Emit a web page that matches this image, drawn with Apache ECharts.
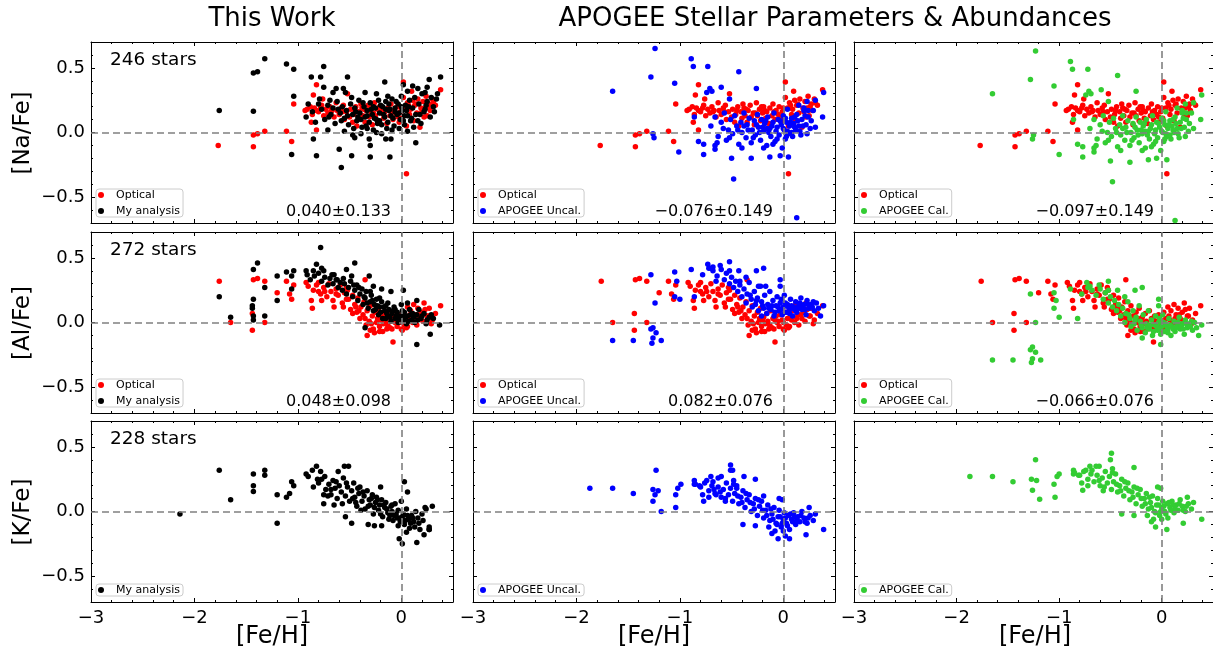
<!DOCTYPE html>
<html><head><meta charset="utf-8">
<script src="https://cdn.jsdelivr.net/npm/echarts@6/dist/echarts.min.js"></script>
<style>html,body{margin:0;padding:0;background:#fff}#c{width:1213px;height:655px}</style>
</head><body><div id="c"></div>
<script>
// ---------------- DATA ([Fe/H], [X/Fe]) ----------------
const naOptical = [[-1.77,-0.10],[-1.43,-0.11],[-1.43,-0.02],[-1.39,-0.01],[-1.32,0.01],[-1.11,0.01],[-1.06,-0.07],[-1.04,0.22],[-0.91,0.18],[-0.82,0.37],[-0.85,0.29],[-0.82,0.17],[-0.82,0.02],[-0.87,0.08],[-0.76,0.26],[0.05,-0.32],[0.38,0.33],[0.27,0.22],[0.25,0.13],[0.02,0.39],
[-0.93,0.17],[-0.88,0.20],[-0.86,0.14],[-0.84,0.19],[-0.80,0.16],[-0.78,0.19],[-0.75,0.13],[-0.73,0.18],[-0.71,0.15],[-0.69,0.20],[-0.67,0.17],[-0.65,0.12],[-0.63,0.23],[-0.62,0.17],[-0.60,0.14],[-0.58,0.19],[-0.56,0.21],[-0.55,0.10],[-0.53,0.16],[-0.52,0.30],[-0.50,0.12],[-0.49,0.18],[-0.47,0.08],[-0.46,0.14],[-0.44,0.20],[-0.43,0.05],[-0.41,0.16],[-0.40,0.11],[-0.38,0.19],[-0.37,0.13],[-0.35,0.08],[-0.34,0.17],[-0.32,0.21],[-0.31,0.12],[-0.29,0.15],[-0.28,0.06],[-0.26,0.23],[-0.25,0.13],[-0.23,0.18],[-0.22,0.09],[-0.20,0.15],[-0.19,0.20],[-0.17,0.11],[-0.16,0.16],[-0.14,0.07],[-0.13,0.19],[-0.11,0.13],[-0.10,0.22],[-0.08,0.10],[-0.07,0.17],[-0.05,0.14],[-0.04,0.20],[-0.02,0.08],[-0.01,0.16],[0.01,0.11],[0.02,0.27],[0.04,0.19],[0.05,0.05],[0.06,0.23],[0.08,0.14],[0.09,0.18],[0.10,0.32],[0.12,0.09],[0.13,0.21],[0.15,0.15],[0.16,0.26],[0.18,0.04],[0.19,0.19],[0.21,0.24],[0.22,0.12],[0.24,0.28],[0.26,0.20],[0.28,0.17],[0.30,0.26],[0.33,0.21],
[-0.57,0.16],[-0.45,0.17],[-0.36,0.18],[-0.27,0.15],[-0.18,0.17],[-0.09,0.16],[0.00,0.19],[0.07,0.21],[0.14,0.22],[0.20,0.16],[-0.68,0.16],[-0.77,0.21],[-0.39,0.22],[-0.21,0.20],[-0.03,0.12],[0.11,0.25],[0.23,0.19],[0.31,0.23]];

const naMine = [[-1.76,0.17],[-1.43,0.46],[-1.39,0.47],[-1.32,0.57],[-1.11,0.53],[-1.04,0.49],[-1.43,0.165],[-1.04,0.28],[-1.06,-0.17],[-0.87,0.43],[-0.75,0.51],[-0.78,0.43],[-0.75,0.35],[-0.85,-0.05],[-0.82,-0.18],[-0.90,0.22],[-0.71,0.02],[-0.58,-0.27],[-0.60,-0.13],[-0.48,-0.18],[-0.52,0.43],[-0.30,-0.10],[-0.30,-0.19],[-0.16,0.39],[-0.11,-0.19],[0.14,-0.08],[0.27,0.41],[0.38,0.43],[-0.10,-0.05],
[-0.66,0.31],[-0.63,0.34],[-0.56,0.34],[-0.54,0.31],[-0.69,0.25],[-0.55,0.01],[-0.47,-0.02],[-0.45,-0.04],[-0.35,0.31],[-0.24,0.30],[-0.13,0.28],[0.02,0.37],[0.06,0.32],[0.11,0.36],[0.16,0.34],[0.23,0.31],[0.25,0.35],[0.34,0.26],[0.23,0.18],[0.16,0.09],[0.06,0.01],[-0.02,0.03],[-0.19,-0.01],[-0.24,0.00],[-0.33,0.03],[-0.39,-0.01],[-0.31,-0.05],[-0.15,-0.05],
[-0.92,0.12],[-0.86,0.16],[-0.83,0.08],[-0.80,0.22],[-0.77,0.18],[-0.74,0.10],[-0.71,0.21],[-0.68,0.14],[-0.66,0.19],[-0.64,0.07],[-0.62,0.24],[-0.59,0.15],[-0.57,0.20],[-0.55,0.11],[-0.53,0.17],[-0.51,0.06],[-0.49,0.22],[-0.47,0.14],[-0.45,0.19],[-0.43,0.09],[-0.41,0.25],[-0.40,0.15],[-0.38,0.04],[-0.36,0.20],[-0.35,0.12],[-0.33,0.17],[-0.31,0.08],[-0.30,0.23],[-0.28,0.14],[-0.27,0.02],[-0.25,0.19],[-0.24,0.10],[-0.22,0.25],[-0.21,0.15],[-0.19,0.06],[-0.18,0.20],[-0.16,0.12],[-0.15,0.24],[-0.13,0.08],[-0.12,0.17],[-0.10,0.13],[-0.09,0.26],[-0.07,0.05],[-0.06,0.19],[-0.04,0.14],[-0.03,0.22],[-0.01,0.10],[0.00,0.28],[0.01,0.17],[0.03,0.06],[0.04,0.21],[0.06,0.13],[0.08,0.25],[0.09,0.09],[0.11,0.19],[0.13,0.27],[0.14,0.14],[0.17,0.22],[0.19,0.07],[0.20,0.30],[0.22,0.16],[0.25,0.24],[0.28,0.12],[0.31,0.20],[0.35,0.30],
[-0.58,0.09],[-0.52,0.13],[-0.44,0.16],[-0.39,0.10],[-0.34,0.05],[-0.29,0.18],[-0.26,0.11],[-0.23,0.07],[-0.20,0.21],[-0.17,0.14],[-0.14,0.03],[-0.11,0.18],[-0.08,0.11],[-0.05,0.24],[-0.02,0.15],[0.02,0.09],[0.05,0.17],[0.07,0.20],[0.10,0.11],[0.12,0.04],[-0.37,0.23],[-0.46,0.03],[-0.61,0.18],[-0.70,0.12],[-0.79,0.26],[-0.33,0.13],[-0.21,0.09],[-0.12,0.22],[-0.06,0.16],[0.03,0.13],[-0.27,0.20],[-0.42,0.12],[0.18,0.14],[0.24,0.21],[0.29,0.27],[0.32,0.16],[-0.15,0.18],[-0.09,0.02],[0.00,0.20],[-0.48,0.27]];

const naApoUncal = [[-1.65,0.32],[-1.28,0.43],[-1.24,0.65],[-1.26,-0.01],[-1.25,-0.04],[-1.05,0.38],[-1.01,-0.15],[-0.89,0.57],[-0.87,0.51],[-0.73,0.51],[-0.86,0.12],[-0.82,-0.07],[-0.77,-0.09],[-0.77,-0.17],[-0.74,0.31],[-0.71,0.34],[-0.69,0.32],[-0.66,-0.10],[-0.64,-0.08],[-0.66,-0.13],[-0.60,0.35],[-0.52,0.26],[-0.50,-0.20],[-0.48,-0.36],[-0.43,0.47],[-0.40,-0.12],[-0.31,-0.20],[-0.26,0.34],[-0.19,-0.12],[-0.13,-0.19],[-0.03,-0.18],[0.05,-0.19],[0.13,-0.66],[0.31,0.25],[0.39,0.31],[0.38,0.12],[0.31,0.04],[0.23,-0.01],[0.23,0.24],[0.20,0.17],[0.15,0.21],[0.24,0.17],
[-0.70,0.05],[-0.66,0.12],[-0.63,-0.03],[-0.60,0.08],[-0.57,0.15],[-0.55,-0.06],[-0.53,0.02],[-0.51,0.10],[-0.49,-0.01],[-0.47,0.13],[-0.45,0.05],[-0.43,-0.09],[-0.41,0.08],[-0.40,0.00],[-0.38,0.15],[-0.36,-0.04],[-0.35,0.06],[-0.33,0.11],[-0.31,-0.08],[-0.30,0.02],[-0.28,0.09],[-0.27,-0.02],[-0.25,0.14],[-0.24,0.04],[-0.22,-0.06],[-0.21,0.10],[-0.19,0.01],[-0.18,0.07],[-0.16,-0.10],[-0.15,0.12],[-0.13,0.03],[-0.12,-0.03],[-0.10,0.08],[-0.09,0.15],[-0.08,-0.07],[-0.06,0.04],[-0.05,0.10],[-0.04,-0.02],[-0.02,0.06],[-0.01,-0.12],[0.00,0.13],[0.01,0.02],[0.02,-0.05],[0.03,0.08],[0.04,0.18],[0.05,-0.01],[0.06,0.05],[0.08,0.11],[0.09,-0.03],[0.10,0.07],[0.12,0.02],[0.13,0.14],[0.15,0.05],[0.17,-0.02],[0.18,0.10],[0.20,0.19],[0.22,0.06],[0.24,0.12],[0.27,0.09],[0.29,0.17],
[-0.34,0.02],[-0.29,-0.04],[-0.26,0.06],[-0.23,0.00],[-0.20,0.04],[-0.17,0.09],[-0.14,0.00],[-0.11,0.05],[-0.07,0.01],[-0.03,0.09],[0.00,0.03],[0.02,0.11],[0.04,0.01],[0.07,0.08],[0.11,0.04],[0.14,0.09],[0.16,0.01],[-0.44,0.02],[-0.52,-0.04],[-0.58,0.03],[-0.06,-0.05],[-0.10,-0.09],[0.03,-0.03],[0.08,0.00],[0.19,0.05],[0.26,0.03],[0.21,0.13],[-0.16,0.03],[-0.38,0.05],[0.11,0.12]];

const naApoCal = [[-1.65,0.30],[-1.28,0.41],[-1.23,0.63],[-1.26,-0.05],[-1.25,-0.02],[-1.05,0.36],[-1.00,-0.17],[-0.89,0.55],[-0.87,0.49],[-0.72,0.49],[-0.86,0.10],[-0.82,-0.09],[-0.77,-0.11],[-0.77,-0.19],[-0.74,0.29],[-0.71,0.32],[-0.69,0.30],[-0.66,-0.12],[-0.64,-0.10],[-0.66,-0.15],[-0.59,0.33],[-0.52,0.24],[-0.50,-0.22],[-0.48,-0.38],[-0.43,0.44],[-0.40,-0.14],[-0.31,-0.23],[-0.25,0.32],[-0.19,-0.14],[-0.13,-0.21],[-0.05,-0.20],[0.05,-0.21],[0.13,-0.68],[0.31,0.23],[0.39,0.29],[0.38,0.10],[0.31,0.03],[0.23,-0.03],[0.23,0.22],[0.20,0.15],[0.15,0.19],[0.24,0.15],
[-0.70,0.03],[-0.66,0.10],[-0.63,-0.05],[-0.60,0.06],[-0.57,0.13],[-0.55,-0.08],[-0.53,0.00],[-0.51,0.08],[-0.49,-0.03],[-0.47,0.11],[-0.45,0.03],[-0.43,-0.11],[-0.41,0.06],[-0.40,-0.02],[-0.38,0.13],[-0.36,-0.06],[-0.35,0.04],[-0.33,0.09],[-0.31,-0.10],[-0.30,0.00],[-0.28,0.07],[-0.27,-0.04],[-0.25,0.12],[-0.24,0.02],[-0.22,-0.08],[-0.21,0.08],[-0.19,-0.01],[-0.18,0.05],[-0.16,-0.12],[-0.15,0.10],[-0.13,0.01],[-0.12,-0.05],[-0.10,0.06],[-0.09,0.13],[-0.08,-0.09],[-0.06,0.02],[-0.05,0.08],[-0.04,-0.04],[-0.02,0.04],[-0.01,-0.14],[0.00,0.11],[0.01,0.00],[0.02,-0.07],[0.03,0.06],[0.04,0.16],[0.05,-0.03],[0.06,0.03],[0.08,0.09],[0.09,-0.05],[0.10,0.05],[0.12,0.00],[0.13,0.12],[0.15,0.03],[0.17,-0.04],[0.18,0.08],[0.20,0.17],[0.22,0.04],[0.24,0.10],[0.27,0.07],[0.29,0.15],
[-0.34,0.00],[-0.29,-0.06],[-0.26,0.04],[-0.23,-0.02],[-0.20,0.02],[-0.17,0.07],[-0.14,-0.02],[-0.11,0.03],[-0.07,-0.01],[-0.03,0.07],[0.00,0.01],[0.02,0.09],[0.04,-0.01],[0.07,0.06],[0.11,0.02],[0.14,0.07],[0.16,-0.01],[-0.44,0.00],[-0.52,-0.06],[-0.58,0.01],[-0.06,-0.07],[-0.10,-0.11],[0.03,-0.05],[0.08,-0.02],[0.19,0.03],[0.26,0.01],[0.21,0.11],[-0.16,0.01],[-0.38,0.03],[0.11,0.10]];

const alOptical = [[-1.76,0.32],[-1.65,0.00],[-1.44,0.07],[-1.44,-0.06],[-1.43,0.33],[-1.39,0.34],[-1.32,0.32],[-1.32,0.00],[-1.20,0.23],[-1.11,0.32],[-1.08,0.22],[-1.06,0.18],[-1.04,0.29],[-0.92,0.31],[-0.87,0.17],[-0.86,0.11],[-0.82,0.29],[-0.80,0.24],[-0.77,0.17],[-0.74,0.24],[-0.65,0.12],[-0.63,0.22],[-0.56,0.12],[-0.53,0.18],[-0.52,0.25],[-0.47,0.07],[-0.44,0.12],[-0.35,0.33],[-0.33,-0.10],[-0.30,-0.06],[-0.21,-0.07],[-0.13,-0.04],[-0.08,-0.15],[0.00,-0.05],[0.06,-0.03],[0.15,-0.02],[0.23,0.10],[0.29,-0.01],[0.38,0.13],[0.26,0.05],
[-0.90,0.28],[-0.85,0.25],[-0.80,0.31],[-0.78,0.22],[-0.75,0.27],[-0.72,0.20],[-0.70,0.30],[-0.68,0.24],[-0.66,0.17],[-0.63,0.26],[-0.61,0.21],[-0.59,0.29],[-0.57,0.15],[-0.55,0.23],[-0.53,0.27],[-0.51,0.18],[-0.49,0.10],[-0.47,0.21],[-0.45,0.14],[-0.43,0.08],[-0.42,0.19],[-0.40,0.03],[-0.39,0.12],[-0.37,0.06],[-0.36,0.16],[-0.34,-0.02],[-0.33,0.09],[-0.31,0.01],[-0.30,0.13],[-0.28,0.05],[-0.27,-0.05],[-0.25,0.08],[-0.24,0.00],[-0.22,0.11],[-0.21,-0.03],[-0.19,0.04],[-0.18,-0.07],[-0.16,0.07],[-0.15,0.01],[-0.13,-0.02],[-0.12,0.09],[-0.10,0.03],[-0.09,-0.05],[-0.07,0.05],[-0.06,0.00],[-0.04,-0.03],[-0.03,0.06],[-0.01,0.02],[0.01,-0.06],[0.02,0.08],[0.04,0.03],[0.06,0.12],[0.07,0.05],[0.09,0.09],[0.11,0.00],[0.12,0.14],[0.14,0.06],[0.16,0.11],[0.18,0.03],[0.20,0.08],[0.22,0.15],[0.25,0.05],[0.27,0.11],[0.30,0.02],[0.33,0.07],
[-0.35,0.03],[-0.29,-0.01],[-0.23,0.03],[-0.17,-0.01],[-0.11,-0.04],[-0.05,0.01],[0.00,0.00],[0.03,-0.02],[0.08,0.02],[0.13,0.03],[-0.41,0.09],[-0.26,-0.08],[-0.14,-0.05],[0.05,-0.04],[0.17,0.06],[-0.20,0.02],[-0.08,0.02],[0.21,0.01]];

const alMine = [[-1.76,0.20],[-1.65,0.04],[-1.43,0.41],[-1.39,0.46],[-1.43,0.18],[-1.44,0.13],[-1.44,0.11],[-1.43,0.05],[-1.43,0.02],[-1.32,0.05],[-1.32,0.27],[-1.20,0.36],[-1.20,0.17],[-1.11,0.39],[-1.04,0.40],[-1.06,0.36],[-1.06,0.26],[-0.92,0.40],[-0.91,0.37],[-0.85,0.40],[-0.82,0.45],[-0.78,0.58],[-0.77,0.42],[-0.75,0.40],[-0.65,0.37],[-0.62,0.33],[-0.53,0.41],[-0.45,0.46],[-0.48,0.36],[-0.35,-0.04],[-0.31,0.36],[-0.27,0.28],[-0.19,0.26],[-0.10,0.24],[0.02,0.25],[0.15,-0.17],[0.28,-0.09],[0.37,-0.02],[0.29,0.06],[0.15,0.17],[0.06,0.15],
[-0.88,0.33],[-0.84,0.36],[-0.80,0.38],[-0.77,0.32],[-0.74,0.35],[-0.71,0.29],[-0.69,0.34],[-0.66,0.30],[-0.63,0.33],[-0.61,0.27],[-0.59,0.31],[-0.57,0.25],[-0.55,0.30],[-0.53,0.22],[-0.51,0.27],[-0.49,0.32],[-0.47,0.20],[-0.45,0.25],[-0.43,0.29],[-0.42,0.17],[-0.40,0.22],[-0.38,0.26],[-0.37,0.14],[-0.35,0.19],[-0.34,0.24],[-0.32,0.11],[-0.30,0.16],[-0.29,0.21],[-0.27,0.09],[-0.26,0.14],[-0.24,0.18],[-0.22,0.06],[-0.21,0.12],[-0.19,0.16],[-0.18,0.03],[-0.16,0.09],[-0.15,0.13],[-0.13,0.05],[-0.12,0.10],[-0.10,0.01],[-0.09,0.07],[-0.07,0.12],[-0.06,0.03],[-0.04,0.08],[-0.03,0.00],[-0.01,0.05],[0.00,0.14],[0.02,0.02],[0.03,0.08],[0.05,-0.01],[0.06,0.05],[0.08,0.10],[0.10,0.02],[0.11,0.07],[0.13,0.00],[0.15,0.06],[0.17,0.10],[0.19,0.03],[0.22,0.07],[0.24,-0.01],[0.27,0.04],[0.31,0.03],
[-0.36,0.20],[-0.33,0.15],[-0.28,0.17],[-0.25,0.10],[-0.23,0.13],[-0.20,0.08],[-0.17,0.12],[-0.14,0.07],[-0.11,0.04],[-0.08,0.09],[-0.05,0.05],[-0.02,0.03],[0.01,0.09],[0.04,0.04],[0.07,0.01],[0.09,0.06],[0.12,0.04],[0.16,0.02],[0.20,0.05],[-0.30,0.24],[-0.41,0.27],[-0.46,0.29],[-0.56,0.34],[-0.67,0.37],[-0.21,0.19],[-0.13,0.15],[-0.06,0.10],[0.02,0.06],[0.25,0.02],[-0.15,0.03]];

const alApoUncal = [[-1.65,-0.14],[-1.45,-0.14],[-1.28,0.37],[-1.24,0.15],[-1.28,-0.05],[-1.26,-0.04],[-1.26,-0.12],[-1.27,-0.16],[-1.23,-0.08],[-1.18,-0.14],[-1.05,0.39],[-1.03,0.32],[-1.05,0.20],[-1.00,0.18],[-0.89,0.41],[-0.86,0.20],[-0.78,0.37],[-0.73,0.45],[-0.70,0.42],[-0.68,0.43],[-0.61,0.44],[-0.65,0.32],[-0.52,0.47],[-0.52,0.40],[-0.43,0.40],[-0.42,0.32],[-0.36,0.35],[-0.26,0.40],[-0.19,0.42],[-0.24,0.28],[-0.17,0.28],[-0.03,0.33],[-0.03,0.28],[-0.21,0.05],[0.36,0.05],[0.39,0.13],[0.29,0.16],
[-0.72,0.42],[-0.68,0.40],[-0.64,0.36],[-0.60,0.41],[-0.57,0.33],[-0.55,0.38],[-0.52,0.30],[-0.50,0.35],[-0.48,0.27],[-0.46,0.32],[-0.44,0.24],[-0.42,0.29],[-0.40,0.20],[-0.38,0.26],[-0.36,0.15],[-0.35,0.22],[-0.33,0.31],[-0.31,0.18],[-0.30,0.12],[-0.28,0.24],[-0.27,0.14],[-0.25,0.19],[-0.24,0.09],[-0.22,0.28],[-0.21,0.16],[-0.19,0.11],[-0.18,0.21],[-0.16,0.07],[-0.15,0.14],[-0.13,0.24],[-0.12,0.10],[-0.10,0.17],[-0.09,0.05],[-0.07,0.13],[-0.06,0.20],[-0.04,0.09],[-0.03,0.15],[-0.01,0.06],[0.00,0.12],[0.01,0.21],[0.03,0.08],[0.04,0.14],[0.06,0.10],[0.07,0.18],[0.09,0.05],[0.10,0.12],[0.12,0.16],[0.13,0.08],[0.15,0.13],[0.17,0.19],[0.18,0.10],[0.20,0.14],[0.22,0.06],[0.23,0.17],[0.25,0.11],[0.27,0.14],[0.30,0.09],[0.32,0.15],[0.34,0.11],
[-0.14,0.11],[-0.11,0.13],[-0.08,0.08],[-0.05,0.12],[-0.02,0.10],[0.02,0.15],[0.05,0.12],[0.08,0.13],[0.11,0.10],[0.14,0.11],[0.16,0.15],[0.19,0.12],[0.24,0.14],[0.28,0.12],[-0.20,0.13],[-0.26,0.17],[-0.32,0.21],[-0.02,0.18],[0.06,0.07],[0.21,0.10]];

const alApoCal = [[-1.65,-0.29],[-1.45,-0.29],[-1.28,0.22],[-1.23,0.00],[-1.28,-0.21],[-1.26,-0.19],[-1.26,-0.28],[-1.27,-0.31],[-1.23,-0.23],[-1.18,-0.29],[-1.05,0.23],[-1.03,0.17],[-1.05,0.11],[-1.00,0.04],[-0.89,0.26],[-0.82,0.03],[-0.78,0.22],[-0.73,0.31],[-0.70,0.28],[-0.61,0.29],[-0.52,0.32],[-0.52,0.25],[-0.43,0.25],[-0.36,0.20],[-0.26,0.25],[-0.19,0.27],[-0.03,0.18],[-0.03,0.13],[0.36,-0.10],[0.39,-0.02],[0.29,0.01],[-0.19,-0.12],[-0.01,-0.17],
[-0.72,0.27],[-0.68,0.25],[-0.64,0.21],[-0.60,0.26],[-0.57,0.18],[-0.55,0.23],[-0.52,0.15],[-0.50,0.20],[-0.48,0.12],[-0.46,0.17],[-0.44,0.09],[-0.42,0.14],[-0.40,0.05],[-0.38,0.11],[-0.36,0.00],[-0.35,0.07],[-0.33,0.16],[-0.31,0.03],[-0.30,-0.03],[-0.28,0.09],[-0.27,-0.01],[-0.25,0.04],[-0.24,-0.06],[-0.22,0.13],[-0.21,0.01],[-0.19,-0.04],[-0.18,0.06],[-0.16,-0.08],[-0.15,-0.01],[-0.13,0.09],[-0.12,-0.05],[-0.10,0.02],[-0.09,-0.10],[-0.07,-0.02],[-0.06,0.05],[-0.04,-0.06],[-0.03,0.00],[-0.01,-0.09],[0.00,-0.03],[0.01,0.06],[0.03,-0.07],[0.04,-0.01],[0.06,-0.05],[0.07,0.03],[0.09,-0.10],[0.10,-0.03],[0.12,0.01],[0.13,-0.07],[0.15,-0.02],[0.17,0.04],[0.18,-0.05],[0.20,-0.01],[0.22,-0.09],[0.23,0.02],[0.25,-0.04],[0.27,-0.01],[0.30,-0.06],[0.32,0.00],[0.34,-0.04],
[-0.14,-0.04],[-0.11,-0.02],[-0.08,-0.07],[-0.05,-0.03],[-0.02,-0.05],[0.02,0.00],[0.05,-0.03],[0.08,-0.02],[0.11,-0.05],[0.14,-0.04],[0.16,0.00],[0.19,-0.03],[0.24,-0.01],[0.28,-0.03],[-0.20,-0.02],[-0.26,0.02],[-0.32,0.06],[-0.02,0.03],[0.06,-0.08],[0.21,-0.05]];

const kMine = [[-2.14,-0.02],[-1.76,0.32],[-1.65,0.09],[-1.43,0.29],[-1.43,0.20],[-1.43,0.155],[-1.32,0.32],[-1.32,0.28],[-1.20,0.13],[-1.20,-0.09],[-1.11,0.11],[-1.08,0.14],[-1.06,0.23],[-1.04,0.20],[-0.92,0.29],[-0.90,0.27],[-0.86,0.32],[-0.82,0.35],[-0.81,0.25],[-0.78,0.31],[-0.85,0.19],[-0.74,0.27],[-0.75,0.13],[-0.75,0.06],[-0.68,0.17],[-0.65,0.05],[-0.61,0.31],[-0.55,0.35],[-0.51,0.35],[-0.54,-0.04],[-0.48,-0.09],[-0.32,-0.10],[-0.26,-0.11],[-0.20,0.19],[-0.19,-0.11],[-0.02,-0.21],[0.01,-0.25],[0.03,0.23],[0.06,0.15],[0.05,-0.16],[0.15,-0.24],[0.22,-0.18],[0.27,-0.12],[0.27,-0.14],[0.23,0.03],[0.30,0.04],
[-0.80,0.22],[-0.77,0.25],[-0.73,0.17],[-0.70,0.21],[-0.68,0.13],[-0.66,0.24],[-0.64,0.18],[-0.62,0.10],[-0.60,0.20],[-0.58,0.15],[-0.56,0.26],[-0.54,0.12],[-0.52,0.19],[-0.50,0.08],[-0.48,0.16],[-0.46,0.22],[-0.45,0.11],[-0.43,0.04],[-0.41,0.14],[-0.40,0.19],[-0.38,0.08],[-0.36,0.12],[-0.35,0.02],[-0.33,0.16],[-0.31,0.09],[-0.30,0.05],[-0.28,0.13],[-0.27,-0.02],[-0.25,0.07],[-0.24,0.11],[-0.22,0.01],[-0.21,0.05],[-0.19,0.09],[-0.18,-0.04],[-0.16,0.03],[-0.15,0.07],[-0.13,-0.01],[-0.12,-0.06],[-0.10,0.04],[-0.09,0.00],[-0.07,-0.03],[-0.06,0.06],[-0.04,-0.05],[-0.03,0.01],[-0.01,-0.08],[0.00,0.08],[0.02,-0.02],[0.03,-0.10],[0.05,0.02],[0.07,-0.06],[0.08,-0.13],[0.10,-0.03],[0.12,-0.08],[0.14,0.00],[0.16,-0.05],[0.18,-0.14],[0.20,-0.02],[0.24,0.02],[0.27,-0.14],
[-0.71,0.12],[-0.63,0.23],[-0.57,0.06],[-0.47,0.10],[-0.42,0.18],[-0.37,0.15],[-0.32,0.04],[-0.29,0.10],[-0.26,0.03],[-0.23,0.09],[-0.20,-0.02],[-0.17,0.05],[-0.14,0.02],[-0.11,-0.03],[-0.08,-0.07],[-0.05,-0.02],[-0.02,-0.05],[0.01,-0.04],[0.04,-0.07],[0.06,-0.03],[0.09,-0.09],[0.11,-0.05],[0.13,-0.12],[0.17,-0.09],[0.21,-0.07],[-0.39,0.01],[-0.53,0.22],[-0.44,0.07],[-0.09,0.05],[-0.03,-0.11]];

const kApoUncal = [[-1.87,0.18],[-1.65,0.18],[-1.45,0.14],[-1.23,0.32],[-1.26,0.17],[-1.24,0.13],[-1.26,0.08],[-1.21,0.16],[-1.18,0.00],[-1.04,0.13],[-1.04,0.03],[-1.02,0.18],[-0.99,0.21],[-0.86,0.24],[-0.86,0.21],[-0.81,0.20],[-0.77,0.08],[-0.74,0.24],[-0.72,0.11],[-0.70,0.27],[-0.67,0.17],[-0.65,0.13],[-0.63,0.26],[-0.60,0.27],[-0.56,0.08],[-0.51,0.36],[-0.49,0.32],[-0.51,0.32],[-0.48,0.24],[-0.45,0.18],[-0.39,-0.10],[-0.38,0.27],[-0.27,0.25],[-0.27,-0.11],[-0.19,0.12],[-0.11,-0.17],[-0.05,-0.21],[-0.04,0.10],[-0.01,0.09],[0.02,-0.19],[0.06,-0.21],[0.22,-0.18],[0.39,-0.14],[0.25,0.03],[0.31,-0.02],
[-0.85,0.21],[-0.80,0.19],[-0.76,0.22],[-0.72,0.16],[-0.69,0.20],[-0.66,0.14],[-0.63,0.19],[-0.60,0.11],[-0.58,0.17],[-0.55,0.22],[-0.53,0.13],[-0.51,0.18],[-0.49,0.08],[-0.47,0.14],[-0.45,0.20],[-0.43,0.06],[-0.41,0.11],[-0.39,0.16],[-0.37,0.03],[-0.35,0.09],[-0.33,0.13],[-0.31,0.00],[-0.29,0.06],[-0.27,0.10],[-0.25,-0.03],[-0.23,0.04],[-0.21,0.08],[-0.19,-0.05],[-0.17,0.01],[-0.15,0.05],[-0.13,-0.07],[-0.11,-0.02],[-0.09,0.03],[-0.07,-0.09],[-0.05,-0.04],[-0.04,0.01],[-0.02,-0.12],[0.00,-0.06],[0.01,-0.01],[0.03,-0.09],[0.05,-0.03],[0.06,-0.14],[0.08,-0.06],[0.10,-0.01],[0.12,-0.10],[0.14,-0.04],[0.16,-0.08],[0.18,0.00],[0.20,-0.05],[0.23,-0.09],[0.26,-0.03],[0.29,-0.07],
[-0.78,0.13],[-0.68,0.23],[-0.61,0.15],[-0.56,0.10],[-0.48,0.21],[-0.44,0.12],[-0.40,0.07],[-0.36,0.14],[-0.32,0.07],[-0.28,0.02],[-0.24,0.09],[-0.20,0.01],[-0.16,-0.03],[-0.12,0.02],[-0.10,-0.06],[-0.06,-0.10],[-0.03,-0.04],[-0.01,-0.09],[0.02,-0.05],[0.04,-0.11],[0.07,-0.02],[0.09,-0.08],[0.11,-0.04],[0.13,-0.07],[0.17,-0.03],[0.21,-0.08],[0.24,-0.05],[-0.14,-0.12],[-0.08,-0.15],[0.00,-0.15]];

const kApoCal = [[-1.87,0.27],[-1.65,0.27],[-1.45,0.23],[-1.23,0.40],[-1.27,0.25],[-1.22,0.24],[-1.26,0.165],[-1.19,0.095],[-1.05,0.21],[-1.04,0.11],[-1.02,0.27],[-1.00,0.29],[-0.86,0.32],[-0.86,0.29],[-0.81,0.28],[-0.77,0.165],[-0.74,0.32],[-0.72,0.20],[-0.70,0.35],[-0.64,0.35],[-0.61,0.35],[-0.57,0.16],[-0.49,0.45],[-0.50,0.40],[-0.48,0.33],[-0.39,-0.02],[-0.27,0.34],[-0.27,-0.03],[-0.10,-0.08],[-0.06,-0.12],[0.05,-0.14],[0.21,-0.09],[0.39,-0.06],[0.25,0.11],[0.31,0.07],[-0.04,0.19],[-0.01,0.18],
[-0.85,0.30],[-0.80,0.28],[-0.76,0.31],[-0.72,0.25],[-0.69,0.29],[-0.66,0.23],[-0.63,0.28],[-0.60,0.20],[-0.58,0.26],[-0.55,0.31],[-0.53,0.22],[-0.51,0.27],[-0.49,0.17],[-0.47,0.23],[-0.45,0.29],[-0.43,0.15],[-0.41,0.20],[-0.39,0.25],[-0.37,0.12],[-0.35,0.18],[-0.33,0.22],[-0.31,0.09],[-0.29,0.15],[-0.27,0.19],[-0.25,0.06],[-0.23,0.13],[-0.21,0.17],[-0.19,0.04],[-0.17,0.10],[-0.15,0.14],[-0.13,0.02],[-0.11,0.07],[-0.09,0.12],[-0.07,0.00],[-0.05,0.05],[-0.04,0.10],[-0.02,-0.03],[0.00,0.03],[0.01,0.08],[0.03,0.00],[0.05,0.06],[0.06,-0.05],[0.08,0.03],[0.10,0.08],[0.12,-0.01],[0.14,0.05],[0.16,0.01],[0.18,0.09],[0.20,0.04],[0.23,0.00],[0.26,0.06],[0.29,0.02],
[-0.78,0.22],[-0.68,0.32],[-0.61,0.24],[-0.56,0.19],[-0.48,0.30],[-0.44,0.21],[-0.40,0.16],[-0.36,0.23],[-0.32,0.16],[-0.28,0.11],[-0.24,0.18],[-0.20,0.10],[-0.16,0.06],[-0.12,0.11],[-0.10,0.03],[-0.06,-0.01],[-0.03,0.05],[-0.01,0.00],[0.02,0.04],[0.04,-0.02],[0.07,0.07],[0.09,0.01],[0.11,0.05],[0.13,0.02],[0.17,0.06],[0.21,0.01],[0.24,0.04],[-0.14,-0.03],[-0.08,-0.06],[0.00,-0.06]];

const xTickValues = [-3, -2, -1, 0];
const yTickValues = [-0.5, 0, 0.5];
const rowLabels = ['[Na/Fe]', '[Al/Fe]', '[K/Fe]'];
const starCounts = ['246 stars', '272 stars', '228 stars'];
const statTexts = [['0.040±0.133', '\u22120.076±0.149', '\u22120.097±0.149'],
                   ['0.048±0.098', '0.082±0.076', '\u22120.066±0.076'],
                   [null, null, null]];
const columnTitles = ['This Work', 'APOGEE Stellar Parameters & Abundances'];
const xName = '[Fe/H]';

// ---------------- LAYOUT / STYLE ----------------
const FONT = 'DejaVu Sans';
const RED = '#ff0000', BLACK = '#000000', BLUE = '#0000ff', GREEN = '#33cc33';
const colLeft = [91, 473, 854];
const rowTop = [42, 232, 421];
const W = 362, H = 181;
const XMIN = -3, XMAX = 0.5, YMIN = -0.7, YMAX = 0.7;

const panelSeries = [
  [[['Optical', naOptical, RED], ['My analysis', naMine, BLACK]],
   [['Optical', naOptical, RED], ['APOGEE Uncal.', naApoUncal, BLUE]],
   [['Optical', naOptical, RED], ['APOGEE Cal.', naApoCal, GREEN]]],
  [[['Optical', alOptical, RED], ['My analysis', alMine, BLACK]],
   [['Optical', alOptical, RED], ['APOGEE Uncal.', alApoUncal, BLUE]],
   [['Optical', alOptical, RED], ['APOGEE Cal.', alApoCal, GREEN]]],
  [[['My analysis', kMine, BLACK]],
   [['APOGEE Uncal.', kApoUncal, BLUE]],
   [['APOGEE Cal.', kApoCal, GREEN]]]
];

const minus = s => String(s).replace('-', '\u2212');
const grids = [], xAxes = [], yAxes = [], series = [], legends = [], graphics = [];
const lineStyle = {color: '#000', width: 1};

for (let r = 0; r < 3; r++) {
  for (let c = 0; c < 3; c++) {
    const g = r * 3 + c;
    grids.push({left: colLeft[c], top: rowTop[r], width: W, height: H, containLabel: false});
    const xb = {gridIndex: g, type: 'value', min: XMIN, max: XMAX, splitLine: {show: false}};
    const majorTickX = {show: true, inside: true, length: 4, customValues: xTickValues, lineStyle};
    const minorTickX = {show: true, inside: true, length: 2, lineStyle};
    xAxes.push(
      Object.assign({}, xb, {position: 'bottom', axisLine: {show: true, onZero: false, lineStyle}, axisTick: majorTickX,
        axisLabel: {show: r === 2, customValues: xTickValues, formatter: v => minus(v), fontSize: 18, fontFamily: FONT, color: '#000', margin: 7}}),
      Object.assign({}, xb, {position: 'bottom', interval: 0.2, axisLine: {show: false, onZero: false}, axisTick: minorTickX, axisLabel: {show: false}}),
      Object.assign({}, xb, {position: 'top', axisLine: {show: true, onZero: false, lineStyle}, axisTick: majorTickX, axisLabel: {show: false}}),
      Object.assign({}, xb, {position: 'top', interval: 0.2, axisLine: {show: false, onZero: false}, axisTick: minorTickX, axisLabel: {show: false}})
    );
    const yb = {gridIndex: g, type: 'value', min: YMIN, max: YMAX, splitLine: {show: false}};
    const majorTickY = {show: true, inside: true, length: 4, customValues: yTickValues, lineStyle};
    const minorTickY = {show: true, inside: true, length: 2, lineStyle};
    yAxes.push(
      Object.assign({}, yb, {position: 'left', axisLine: {show: true, onZero: false, lineStyle}, axisTick: majorTickY,
        axisLabel: {show: c === 0, customValues: yTickValues, formatter: v => minus(Number(v).toFixed(1)), fontSize: 18, fontFamily: FONT, color: '#000', margin: 6}}),
      Object.assign({}, yb, {position: 'left', interval: 0.1, axisLine: {show: false, onZero: false}, axisTick: minorTickY, axisLabel: {show: false}}),
      Object.assign({}, yb, {position: 'right', axisLine: {show: true, onZero: false, lineStyle}, axisTick: majorTickY, axisLabel: {show: false}}),
      Object.assign({}, yb, {position: 'right', interval: 0.1, axisLine: {show: false, onZero: false}, axisTick: minorTickY, axisLabel: {show: false}})
    );
    const items = panelSeries[r][c];
    items.forEach((it, k) => {
      series.push({type: 'scatter', name: it[0], data: it[1], xAxisIndex: 4 * g, yAxisIndex: 4 * g,
        symbolSize: 5.5, itemStyle: {color: it[2], opacity: 1}, z: 2 + k, silent: true, animation: false});
    });
    // dashed reference lines at 0, drawn over the points
    series.push({type: 'scatter', data: [], xAxisIndex: 4 * g, yAxisIndex: 4 * g, z: 10, silent: true,
      markLine: {silent: true, symbol: 'none', animation: false, label: {show: false},
        lineStyle: {color: '#808080', width: 1.6, type: [7, 4]},
        data: [{yAxis: 0}, {xAxis: 0}]}});
    legends.push({orient: 'vertical', left: colLeft[c] + 5, top: rowTop[r] + (items.length === 2 ? 147 : 163),
      data: items.map(it => it[0]), icon: 'circle', itemWidth: 6, itemHeight: 6, itemGap: 5,
      padding: [0.5, 3, 0.5, 2], borderColor: '#cccccc', borderWidth: 1, borderRadius: 3,
      backgroundColor: 'rgba(255,255,255,0.8)', selectedMode: false, z: 20,
      textStyle: {fontSize: 11, fontFamily: FONT, color: '#000', padding: [0, 0, 0, 7], lineHeight: 11}});
    if (statTexts[r][c]) {
      graphics.push({type: 'text', x: colLeft[c] + 300, y: rowTop[r] + 169.5, z: 30,
        style: {text: statTexts[r][c], fontSize: 16, fontFamily: FONT, fill: '#000', align: 'right', verticalAlign: 'middle'}});
    }
  }
  graphics.push({type: 'text', x: colLeft[0] + 19, y: rowTop[r] + 18.5, z: 30,
    style: {text: starCounts[r], fontSize: 18.5, fontFamily: FONT, fill: '#000', align: 'left', verticalAlign: 'middle'}});
  graphics.push({type: 'text', x: 23.5, y: rowTop[r] + 91, rotation: Math.PI / 2, z: 30,
    style: {text: rowLabels[r], fontSize: 23, fontFamily: FONT, fill: '#000', align: 'center', verticalAlign: 'middle'}});
}
for (let c = 0; c < 3; c++) {
  graphics.push({type: 'text', x: colLeft[c] + W / 2, y: 637, z: 30,
    style: {text: xName, fontSize: 24, fontFamily: FONT, fill: '#000', align: 'center', verticalAlign: 'middle'}});
}
graphics.push({type: 'text', x: 272, y: 19, z: 30,
  style: {text: columnTitles[0], fontSize: 26, fontFamily: FONT, fill: '#000', align: 'center', verticalAlign: 'middle'}});
graphics.push({type: 'text', x: 835, y: 19, z: 30,
  style: {text: columnTitles[1], fontSize: 26, fontFamily: FONT, fill: '#000', align: 'center', verticalAlign: 'middle'}});

const chart = echarts.init(document.getElementById('c'), null, {renderer: 'canvas'});
chart.setOption({
  animation: false,
  backgroundColor: '#ffffff',
  textStyle: {fontFamily: FONT},
  grid: grids, xAxis: xAxes, yAxis: yAxes, series: series, legend: legends, graphic: graphics
});
</script>
</body></html>
